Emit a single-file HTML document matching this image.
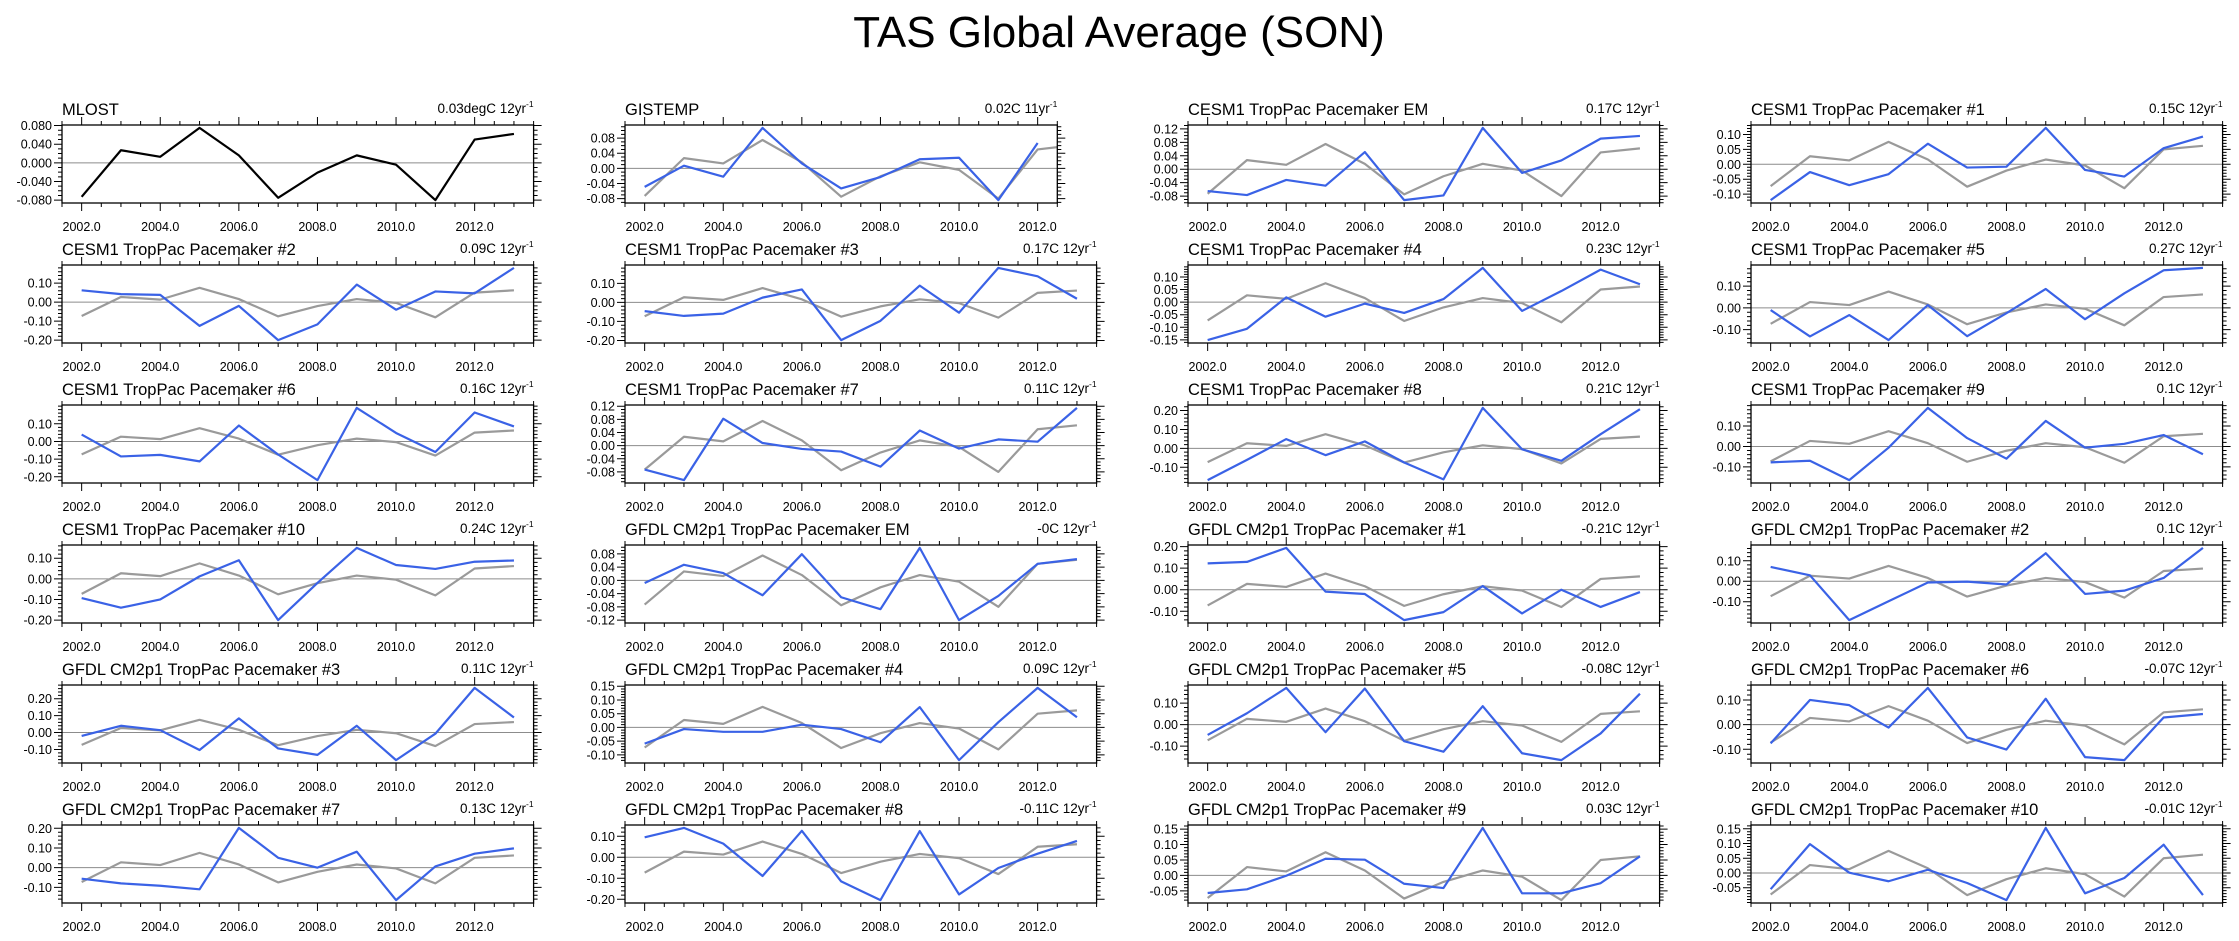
<!DOCTYPE html>
<html><head><meta charset="utf-8"><title>TAS Global Average (SON)</title>
<style>
html,body{margin:0;padding:0;background:#fff;}
svg{display:block;font-family:"Liberation Sans",Arial,sans-serif;}
</style></head>
<body>
<svg id="fig" width="2239" height="941" viewBox="0 0 2239 941" xmlns="http://www.w3.org/2000/svg">
<text x="1119" y="47" font-size="44" text-anchor="middle" fill="#000">TAS Global Average (SON)</text>
</svg>
<script>
// ---- data ----
const years = [2002,2003,2004,2005,2006,2007,2008,2009,2010,2011,2012,2013];
const obsMLOST = [-0.073,0.027,0.013,0.075,0.016,-0.075,-0.021,0.016,-0.004,-0.080,0.050,0.062];
const panelTitles = [
 "MLOST","GISTEMP","CESM1 TropPac Pacemaker EM","CESM1 TropPac Pacemaker #1",
 "CESM1 TropPac Pacemaker #2","CESM1 TropPac Pacemaker #3","CESM1 TropPac Pacemaker #4","CESM1 TropPac Pacemaker #5",
 "CESM1 TropPac Pacemaker #6","CESM1 TropPac Pacemaker #7","CESM1 TropPac Pacemaker #8","CESM1 TropPac Pacemaker #9",
 "CESM1 TropPac Pacemaker #10","GFDL CM2p1 TropPac Pacemaker EM","GFDL CM2p1 TropPac Pacemaker #1","GFDL CM2p1 TropPac Pacemaker #2",
 "GFDL CM2p1 TropPac Pacemaker #3","GFDL CM2p1 TropPac Pacemaker #4","GFDL CM2p1 TropPac Pacemaker #5","GFDL CM2p1 TropPac Pacemaker #6",
 "GFDL CM2p1 TropPac Pacemaker #7","GFDL CM2p1 TropPac Pacemaker #8","GFDL CM2p1 TropPac Pacemaker #9","GFDL CM2p1 TropPac Pacemaker #10"];
const trendLabels = [
 "0.03degC 12yr","0.02C 11yr","0.17C 12yr","0.15C 12yr",
 "0.09C 12yr","0.17C 12yr","0.23C 12yr","0.27C 12yr",
 "0.16C 12yr","0.11C 12yr","0.21C 12yr","0.1C 12yr",
 "0.24C 12yr","-0C 12yr","-0.21C 12yr","0.1C 12yr",
 "0.11C 12yr","0.09C 12yr","-0.08C 12yr","-0.07C 12yr",
 "0.13C 12yr","-0.11C 12yr","0.03C 12yr","-0.01C 12yr"];
const seriesValues = [
 null,
 [-0.049,0.007,-0.022,0.107,0.013,-0.053,-0.023,0.024,0.028,-0.084,0.067],
 [-0.065,-0.077,-0.032,-0.049,0.051,-0.092,-0.078,0.123,-0.011,0.026,0.091,0.099],
 [-0.120,-0.026,-0.070,-0.033,0.069,-0.011,-0.008,0.122,-0.019,-0.041,0.054,0.093],
 [0.062,0.042,0.038,-0.125,-0.020,-0.200,-0.117,0.092,-0.040,0.056,0.046,0.180],
 [-0.046,-0.071,-0.059,0.025,0.068,-0.198,-0.097,0.088,-0.054,0.181,0.137,0.019],
 [-0.151,-0.106,0.019,-0.058,-0.006,-0.043,0.012,0.136,-0.035,0.044,0.129,0.071],
 [-0.010,-0.131,-0.033,-0.148,0.013,-0.130,-0.024,0.087,-0.052,0.067,0.173,0.184],
 [0.039,-0.085,-0.076,-0.113,0.090,-0.074,-0.219,0.190,0.048,-0.060,0.164,0.085],
 [-0.073,-0.105,0.082,0.008,-0.010,-0.018,-0.064,0.046,-0.009,0.019,0.012,0.115],
 [-0.168,-0.061,0.049,-0.036,0.037,-0.075,-0.164,0.214,-0.005,-0.066,0.075,0.207],
 [-0.078,-0.070,-0.165,-0.006,0.189,0.041,-0.060,0.125,-0.006,0.013,0.056,-0.038],
 [-0.093,-0.140,-0.100,0.012,0.090,-0.200,-0.020,0.150,0.067,0.048,0.083,0.089],
 [-0.008,0.047,0.022,-0.045,0.079,-0.051,-0.087,0.098,-0.120,-0.047,0.050,0.064],
 [0.122,0.129,0.194,-0.009,-0.020,-0.141,-0.104,0.017,-0.110,0.000,-0.080,-0.011],
 [0.070,0.029,-0.190,-0.098,-0.006,-0.002,-0.016,0.137,-0.062,-0.046,0.016,0.163],
 [-0.020,0.040,0.014,-0.103,0.084,-0.094,-0.132,0.040,-0.163,-0.007,0.264,0.089],
 [-0.059,-0.006,-0.016,-0.016,0.010,-0.006,-0.054,0.074,-0.119,0.019,0.144,0.037],
 [-0.048,0.053,0.171,-0.035,0.168,-0.077,-0.126,0.086,-0.133,-0.165,-0.041,0.144],
 [-0.076,0.100,0.079,-0.012,0.149,-0.052,-0.101,0.105,-0.132,-0.144,0.029,0.043],
 [-0.056,-0.080,-0.092,-0.110,0.202,0.050,0.000,0.081,-0.165,0.006,0.071,0.098],
 [0.095,0.140,0.065,-0.089,0.126,-0.115,-0.204,0.125,-0.177,-0.051,0.017,0.078],
 [-0.057,-0.045,-0.001,0.054,0.051,-0.027,-0.041,0.154,-0.058,-0.058,-0.025,0.062],
 [-0.055,0.098,0.001,-0.028,0.011,-0.034,-0.092,0.153,-0.069,-0.017,0.096,-0.075]];
const yTickLabels = [
 ["-0.080","-0.040","0.000","0.040","0.080"],
 ["-0.08","-0.04","0.00","0.04","0.08"],
 ["-0.08","-0.04","0.00","0.04","0.08","0.12"],
 ["-0.10","-0.05","0.00","0.05","0.10"],
 ["-0.20","-0.10","0.00","0.10"],
 ["-0.20","-0.10","0.00","0.10"],
 ["-0.15","-0.10","-0.05","0.00","0.05","0.10"],
 ["-0.10","0.00","0.10"],
 ["-0.20","-0.10","0.00","0.10"],
 ["-0.08","-0.04","0.00","0.04","0.08","0.12"],
 ["-0.10","0.00","0.10","0.20"],
 ["-0.10","0.00","0.10"],
 ["-0.20","-0.10","0.00","0.10"],
 ["-0.12","-0.08","-0.04","0.00","0.04","0.08"],
 ["-0.10","0.00","0.10","0.20"],
 ["-0.10","0.00","0.10"],
 ["-0.10","0.00","0.10","0.20"],
 ["-0.10","-0.05","0.00","0.05","0.10","0.15"],
 ["-0.10","0.00","0.10"],
 ["-0.10","0.00","0.10"],
 ["-0.10","0.00","0.10","0.20"],
 ["-0.20","-0.10","0.00","0.10"],
 ["-0.05","0.00","0.05","0.10","0.15"],
 ["-0.05","0.00","0.05","0.10","0.15"]];
const xTickLabels = ["2002.0","2004.0","2006.0","2008.0","2010.0","2012.0"];

// ---- layout ----
const NS = "http://www.w3.org/2000/svg";
const svg = document.getElementById('fig');
const BOX_L = 62, COL_DX = 563, BOX_T = 125, ROW_DY = 140, BOX_H = 78, PX_PER_YEAR = 39.3;
function mk(tag, attrs, parent){
  const e = document.createElementNS(NS, tag);
  for (const k in attrs) e.setAttribute(k, attrs[k]);
  parent.appendChild(e); return e;
}

for (let p = 0; p < panelTitles.length; p++) {
  const col = p % 4, row = Math.floor(p / 4);
  const blue = seriesValues[p];
  const nYears = blue ? blue.length : obsMLOST.length;
  const x0 = years[0] - 0.5, x1 = years[nYears - 1] + 0.5;
  const L = BOX_L + col * COL_DX, T = BOX_T + row * ROW_DY;
  const W = (x1 - x0) * PX_PER_YEAR, H = BOX_H;
  let all = obsMLOST.slice(0, nYears);
  if (blue) all = all.concat(blue);
  let lo = Math.min(...all), hi = Math.max(...all);
  const pad = (hi - lo) * 0.04; lo -= pad; hi += pad;
  const xs = v => L + (v - x0) / (x1 - x0) * W;
  const ys = v => T + H - (v - lo) / (hi - lo) * H;

  const g = mk('g', {}, svg);
  
  

  const t = mk('text', {x: L, y: T - 10, 'font-size': 16.5, fill: '#000'}, g);
  
  
  t.textContent = panelTitles[p];

  const tr = mk('text', {x: L + W, y: T - 12, 'font-size': 13.5, 'text-anchor': 'end', fill: '#000'}, g);
  
  
  tr.textContent = trendLabels[p];
  const sup = mk('tspan', {'font-size': 8.5, dy: -6}, tr);
  sup.textContent = '-1';

  const cid = 'clip' + p;
  const cp = mk('clipPath', {id: cid}, g);
  mk('rect', {x: L, y: T - 1, width: W, height: H + 2}, cp);

  let d = '';
  for (let y = years[0] - 0.5; y <= x1 + 1e-6; y += 0.5) {
    const X = xs(y);
    const major = Math.abs(y % 2) < 1e-6;
    const len = major ? 8 : 4;
    d += `M${X},${T}v${-len}M${X},${T + H}v${len}`;
  }
  const lbls = yTickLabels[p];
  const step = Math.abs(parseFloat(lbls[1]) - parseFloat(lbls[0]));
  const minor = step >= 0.09 ? 0.02 : 0.01;
  for (let v = Math.ceil(lo / minor) * minor; v <= hi + 1e-9; v += minor) {
    const Y = ys(v);
    d += `M${L},${Y}h-4M${L + W},${Y}h4`;
  }
  lbls.forEach(s => {
    const v = parseFloat(s);
    if (v < lo - 1e-9 || v > hi + 1e-9) return;
    d += `M${L},${ys(v)}h-8M${L + W},${ys(v)}h8`;
  });
  mk('path', {d: d, stroke: '#000', 'stroke-width': 1, fill: 'none'}, g);

  lbls.forEach(s => {
    const v = parseFloat(s);
    if (v < lo - 1e-9 || v > hi + 1e-9) return;
    const lt = mk('text', {x: L - 10, y: ys(v) + 4.5, 'font-size': 12.5, 'text-anchor': 'end', fill: '#000'}, g);
    
    
    lt.textContent = s;
  });
  xTickLabels.forEach(s => {
    const v = parseFloat(s);
    const lt = mk('text', {x: xs(v), y: T + H + 28, 'font-size': 12.5, 'text-anchor': 'middle', fill: '#000'}, g);
    
    
    lt.textContent = s;
  });

  const zl = mk('line', {x1: L, x2: L + W, y1: ys(0), y2: ys(0), stroke: '#8c8c8c', 'stroke-width': 1}, g);
  
  

  const obsPts = obsMLOST.map((v, i) => xs(years[i]) + ',' + ys(v)).join(' ');
  const ol = mk('polyline', {points: obsPts, fill: 'none', stroke: blue ? '#9a9a9a' : '#000', 'stroke-width': 2.2, 'clip-path': `url(#${cid})`, 'stroke-linejoin': 'round'}, g);
  
  

  if (blue) {
    const pts = blue.map((v, i) => xs(years[i]) + ',' + ys(v)).join(' ');
    const bl = mk('polyline', {points: pts, fill: 'none', stroke: '#3a62e6', 'stroke-width': 2.2, 'stroke-linejoin': 'round'}, g);
    
    
  }

  const box = mk('rect', {x: L, y: T, width: W, height: H, fill: 'none', stroke: '#000', 'stroke-width': 1.3}, g);
  
  
}
</script>
</body></html>
